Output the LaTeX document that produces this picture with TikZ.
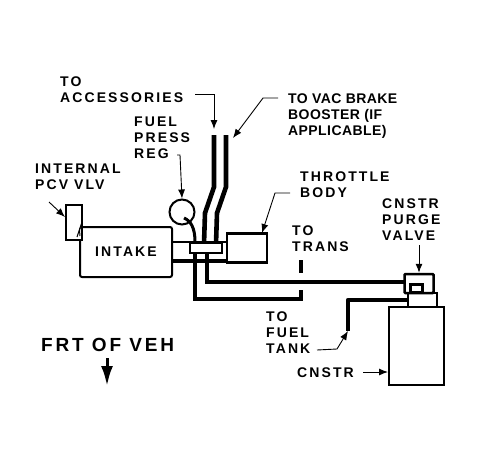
\documentclass[tikz,border=0pt]{standalone}
\usepackage{fontspec}
\setmainfont[LetterSpace=15]{Liberation Sans}
\newfontfamily\vacfont[LetterSpace=3]{Liberation Sans}
\usetikzlibrary{positioning, arrows.meta, calc}
\tikzset{
  lbl/.style={inner sep=0pt, anchor=west, align=left, font=\fontsize{14}{16}\selectfont\bfseries},
  part/.style={draw, line width=2pt, fill=white, inner sep=0pt},
  hose/.style={line width=4.6pt},
  leader/.style={line width=0.9pt, -{Latex[length=9pt,width=7pt]}}
}
\begin{document}
\begin{tikzpicture}[x=1pt, y=-1pt]
  \useasboundingbox (0,0) rectangle (482,461);
  % hoses
  \coordinate (hoseLtop) at (214,135);
  \coordinate (hoseRtop) at (226,135);
  \coordinate (transTop) at (301,260);
  \coordinate (tankEnd) at (348,331);
  \draw[hose] (hoseLtop) -- (214,187) -- (205,213) -- (204,244);
  \draw[hose] (hoseRtop) -- (226,187) -- (217,213) -- (216,244);
  \draw[hose] (transTop) -- (301,273);
  \node[part, minimum width=55pt, minimum height=18pt] (stub) at (199.5,251) {};
  \draw[line width=3pt] (stub.south west) -- (stub.south east);
  \node[part, rounded corners=2pt, minimum width=92pt, minimum height=50pt] (intake) at (126,252) {\fontsize{14}{16}\selectfont\bfseries INTAKE};
  \node[part, minimum width=16pt, minimum height=35pt] (pcv) at (74,222) {};
  \draw[line width=1pt] (82,222) -- (77,237);
  \draw[line width=1pt] (82,227) .. controls (78,228) and (80,232) .. (80,236);
  \node[part, line width=2.5pt, minimum width=40pt, minimum height=29pt] (throttle) at (247,248) {};
  \node[part, minimum width=32pt, minimum height=10pt] (block) at (206,248) {};
  \node[draw, circle, line width=2pt, minimum size=25pt, inner sep=0pt] (reg) at (182,212) {};
  \coordinate (regTube) at (184,218);
  \draw[line width=3pt] (regTube) .. controls (191,221) and (195,228) .. (block.north -| 195,0);
  \draw[hose] (195,253) -- (195,299) -- (301,299) -- (301,290);
  \draw[hose] (207,253) -- (207,282) -- (404,282);
  % canister
  \node[part, minimum width=55pt, minimum height=78pt] (cnstr) at (416.5,346) {};
  \node[part, minimum width=29pt, minimum height=14pt] (base) at (422.5,300) {};
  \node[part, line width=2.5pt, minimum width=29pt, minimum height=19pt, rounded corners=1pt] (purge) at (419,283.5) {};
  \node[draw, line width=3pt, minimum width=12pt, minimum height=8pt, inner sep=0pt] (purgein) at (416,288) {};
  \draw[hose, line join=round] (tankEnd) -- (348,300) -- (base.west);
  % labels
  \node[lbl] (acc) at (60,90) {TO\\ACCESSORIES};
  \node[lbl, font=\fontsize{14}{16}\selectfont\bfseries\vacfont] (vac) at (288,116) {TO VAC BRAKE\\BOOSTER (IF\\APPLICABLE)};
  \node[lbl] (fuel) at (134,138) {FUEL\\PRESS\\REG};
  \node[lbl] (pcvlbl) at (35,177) {INTERNAL\\PCV VLV};
  \node[lbl] (body) at (300,185) {THROTTLE\\BODY};
  \node[lbl] (trans) at (292,239) {TO\\TRANS};
  \node[lbl] (valve) at (382,220) {CNSTR\\PURGE\\VALVE};
  \node[lbl] (tank) at (266,333) {TO\\FUEL\\TANK};
  \node[lbl] (cnstrlbl) at (297,373) {CNSTR};
  \node[lbl, font=\fontsize{19}{21}\selectfont\bfseries] (frt) at (41,345) {FRT OF VEH};
  % leaders
  \coordinate (accStart) at (195,94);
  \coordinate (vacStart) at (278,98);
  \coordinate (fuelStart) at (177,155);
  \coordinate (pcvStart) at (49,202);
  \coordinate (bodyStart) at (290,193);
  \coordinate (valveStart) at (419,245);
  \coordinate (tankStart) at (317,350);
  \coordinate (cnstrStart) at (363,372);
  \draw[leader] (accStart) -- (214,94) -- (214,129);
  \draw[leader] (vacStart) -- (263,98) -- (233,138);
  \draw[leader] (fuelStart) -- (180,155) -- (reg.north);
  \draw[leader] (pcvStart) -- (pcv.west |- 0,217);
  \draw[leader] (bodyStart) -- (275,193) -- (262,233);
  \draw[leader] (valveStart) -- (purge.north);
  \draw[leader] (tankStart) -- (337,349) -- (tankEnd);
  \draw[leader] (cnstrStart) -- (cnstr.west |- cnstrStart);
  \coordinate (frtTop) at (107,358);
  \coordinate (frtEnd) at (107,386);
  \draw[line width=3pt, -{Latex[length=20pt,width=12pt]}] (frtTop) -- (frtEnd);
\end{tikzpicture}
\end{document}
